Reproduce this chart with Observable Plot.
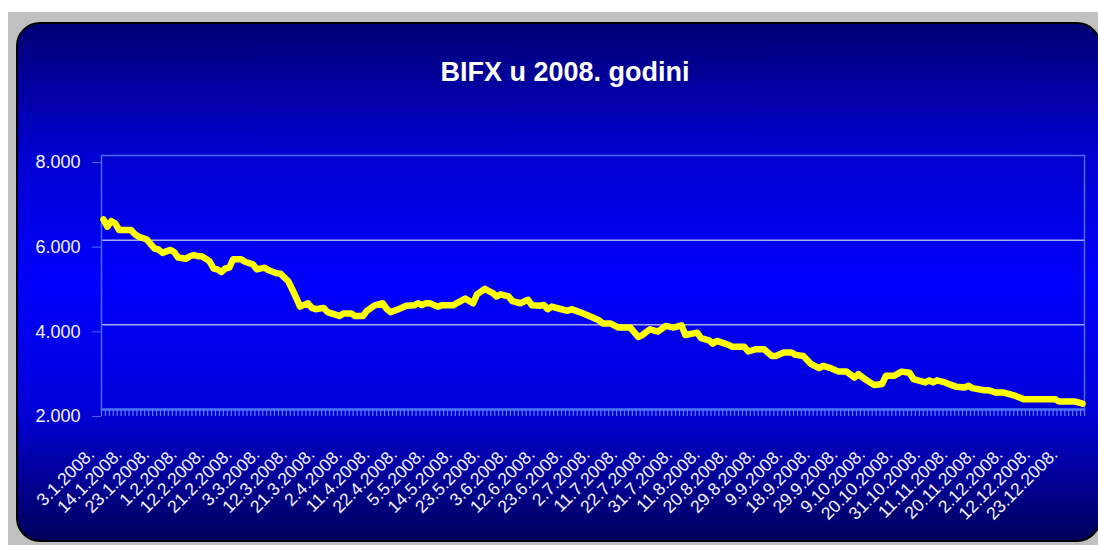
<!DOCTYPE html>
<html>
<head>
<meta charset="utf-8">
<script src="https://cdn.jsdelivr.net/npm/d3@7"></script>
<script src="https://cdn.jsdelivr.net/npm/@observablehq/plot@0.6"></script>
<style>
  html, body { margin: 0; padding: 0; background: #ffffff; }
  #page { position: relative; width: 1098px; height: 545px; overflow: hidden; font-family: "Liberation Sans", Arial, sans-serif; }
  #gray { position: absolute; left: 8px; top: 12px; right: 0; bottom: 0; background: #c0c0c0; }
  #panel { position: absolute; left: 16px; top: 22px; width: 1081px; height: 516px; border: 2px solid #000; border-radius: 24px;
    background: linear-gradient(to bottom, #000075 0%, #0000cf 25%, #0000ff 50%, #0000d8 75%, #00005c 100%); }
  #title { position: absolute; top: 57px; left: 565px; transform: translateX(-50%); white-space: nowrap; color: #ffffff; font-weight: bold; font-size: 27px; }
  #chart { position: absolute; left: 0; top: 0; line-height: 0; }
</style>
</head>
<body>
<div id="page">
  <div id="gray"></div>
  <div id="panel"></div>
  <div id="title">BIFX u 2008. godini</div>
  <div id="chart"></div>
</div>
<script>
// number of trading days (categories) on the axis
const dayCount = 250;

// category labels shown every 7th trading day
const labelDays = [0, 7, 14, 21, 28, 35, 42, 49, 56, 63, 70, 77, 84, 91, 98, 105, 112, 119, 126, 133, 140, 147, 154, 161, 168, 175, 182, 189, 196, 203, 210, 217, 224, 231, 238, 245];
const labelTexts = ["3.1.2008.", "14.1.2008.", "23.1.2008.", "1.2.2008.", "12.2.2008.", "21.2.2008.", "3.3.2008.", "12.3.2008.", "21.3.2008.", "2.4.2008.", "11.4.2008.", "22.4.2008.", "5.5.2008.", "14.5.2008.", "23.5.2008.", "3.6.2008.", "12.6.2008.", "23.6.2008.", "2.7.2008.", "11.7.2008.", "22.7.2008.", "31.7.2008.", "11.8.2008.", "20.8.2008.", "29.8.2008.", "9.9.2008.", "18.9.2008.", "29.9.2008.", "9.10.2008.", "20.10.2008.", "31.10.2008.", "11.11.2008.", "20.11.2008.", "2.12.2008.", "12.12.2008.", "23.12.2008."];

// y axis
const yTicks = [2000, 4000, 6000, 8000];
const yTickLabels = ["2.000", "4.000", "6.000", "8.000"];
const gridValues = [4000, 6000];

// BIFX index (trading-day number -> value)
const tradingDay = [0, 1, 2, 3, 4, 7, 8, 9, 11, 13, 14, 15, 17, 18, 19, 21, 22, 23, 24, 25, 27, 28, 29, 30, 31, 32, 33, 35, 36, 38, 39, 41, 42, 44, 45, 47, 48, 49, 50, 52, 53, 54, 56, 57, 60, 61, 63, 64, 66, 67, 69, 71, 72, 73, 75, 77, 79, 80, 81, 82, 83, 85, 86, 89, 90, 92, 94, 95, 97, 99, 100, 101, 103, 104, 106, 108, 109, 111, 112, 113, 114, 116, 118, 119, 122, 124, 126, 127, 129, 131, 134, 136, 137, 139, 141, 143, 145, 147, 148, 151, 152, 154, 155, 156, 159, 160, 163, 164, 166, 168, 170, 171, 173, 175, 176, 178, 180, 182, 183, 185, 187, 189, 191, 192, 194, 196, 198, 199, 201, 203, 205, 206, 209, 210, 211, 212, 214, 215, 217, 219, 220, 221, 224, 225, 227, 229, 232, 234, 242, 243, 247, 249];
const bifx = [6490, 6320, 6450, 6395, 6240, 6240, 6140, 6080, 6020, 5800, 5780, 5700, 5770, 5720, 5590, 5560, 5620, 5650, 5620, 5620, 5500, 5330, 5310, 5250, 5330, 5350, 5550, 5550, 5490, 5430, 5310, 5350, 5290, 5220, 5210, 5030, 4840, 4640, 4430, 4510, 4400, 4370, 4400, 4300, 4210, 4270, 4270, 4210, 4210, 4330, 4460, 4510, 4380, 4300, 4370, 4450, 4460, 4510, 4470, 4510, 4510, 4430, 4460, 4460, 4520, 4620, 4510, 4720, 4850, 4750, 4670, 4720, 4670, 4560, 4510, 4590, 4460, 4450, 4470, 4370, 4430, 4380, 4330, 4370, 4270, 4190, 4110, 4030, 4030, 3935, 3935, 3715, 3755, 3895, 3840, 3975, 3935, 3990, 3760, 3815, 3685, 3635, 3555, 3620, 3525, 3480, 3480, 3370, 3425, 3425, 3265, 3265, 3345, 3345, 3290, 3265, 3070, 2975, 3030, 2975, 2895, 2895, 2755, 2835, 2695, 2580, 2600, 2795, 2795, 2895, 2870, 2720, 2640, 2690, 2640, 2690, 2640, 2600, 2535, 2520, 2560, 2505, 2455, 2455, 2400, 2400, 2320, 2245, 2245, 2190, 2190, 2140];

const series = tradingDay.map((d, i) => ({day: d + 0.5, value: bifx[i]}));
const boundaries = d3.range(0, dayCount + 1);
const labelPos = labelDays.map(d => d + 0.5);
const labelOf = new Map(labelPos.map((p, i) => [p, labelTexts[i]]));
const yLabelOf = new Map(yTicks.map((t, i) => [t, yTickLabels[i]]));

const edge = "#4d6bff";

const chart = Plot.plot({
  width: 1098,
  height: 545,
  marginLeft: 101,
  marginRight: 14,
  marginTop: 155,
  marginBottom: 136,
  style: {background: "transparent", overflow: "visible", fontFamily: "'Liberation Sans', Arial, sans-serif"},
  x: {type: "linear", domain: [0, dayCount]},
  y: {type: "linear", domain: [2000, 8000]},
  marks: [
    Plot.ruleY(gridValues, {stroke: "#ffffff", strokeWidth: 1}),
    Plot.frame({stroke: edge, strokeWidth: 1.5}),
    Plot.ruleY([2000], {stroke: "#4a70ff", strokeWidth: 2.5}),
    Plot.axisX(boundaries, {tickSize: 7, fill: "none", stroke: "#5b7cff", strokeWidth: 1.2, label: null}),
    Plot.axisX(labelPos, {tickSize: 0, tickPadding: 42, dx: -12, tickRotate: -45, tickFormat: d => labelOf.get(d), fill: "#f4f4ff", fontSize: 17.5, label: null}),
    Plot.axisY(yTicks, {tickSize: 9, tickPadding: 12, dy: 7, tickFormat: d => yLabelOf.get(d), fill: "#f4f4ff", stroke: edge, fontSize: 18, label: null}),
    Plot.line(series, {x: "day", y: "value", stroke: "#ffff00", strokeWidth: 6.5, strokeLinejoin: "round", strokeLinecap: "round"})
  ]
});
document.getElementById("chart").appendChild(chart);
</script>
</body>
</html>
